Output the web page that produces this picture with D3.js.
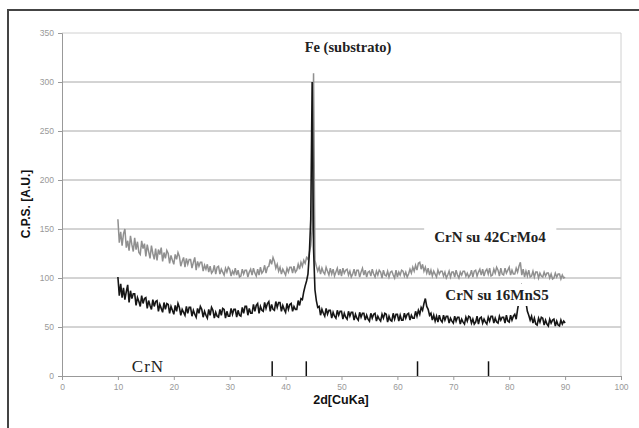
<!DOCTYPE html>
<html>
<head>
<meta charset="utf-8">
<script src="https://cdn.jsdelivr.net/npm/d3@7"></script>
<style>
  body { margin: 0; background: #fff; }
  svg { display: block; }
</style>
</head>
<body>
<svg id="chart" width="639" height="428"></svg>
<script>
// 2theta sampling grid: 10 to 90 deg, 0.25 deg step
const twoTheta = d3.range(321).map(i => 10 + i * 0.25);

// CrN on 42CrMo4 (grey trace), 4 values per degree
const crMo = [
  160, 136, 147, 133,  145, 150, 131, 138,  128, 143, 134, 127,  141, 129, 137, 126,
  124, 138, 130, 135,  122, 134, 127, 120,  133, 125, 119, 130,  118, 129, 124, 131,
  117, 126, 120, 128,  125, 115, 123, 118,  114, 124, 119, 126,  122, 112, 117, 121,
  111, 120, 114, 119,  119, 110, 116, 121,  108, 117, 112, 116,  116, 107, 113, 109,
  114, 106, 112, 105,  107, 113, 104, 111,  112, 104, 109, 106,  103, 110, 106, 111,
  109, 102, 107, 104,  110, 103, 108, 101,  102, 109, 104, 108,  108, 101, 106, 109,
  103, 110, 105, 102,  109, 103, 111, 105,  107, 113, 105, 111,  112, 119, 114, 121,
  117, 110, 114, 107,  111, 104, 109, 106,  103, 110, 106, 111,  111, 105, 112, 106,
  108, 114, 109, 116,  112, 118, 115, 121,  119, 126, 133, 150,  309, 118, 112, 107,
  111, 104, 110, 106,  104, 111, 107, 103,  110, 104, 109, 102,  106, 110, 103, 109,
  102, 110, 105, 108,  109, 103, 107, 101,  104, 109, 102, 108,  108, 101, 106, 110,
  103, 108, 101, 106,  107, 102, 109, 104,  101, 107, 103, 108,  106, 100, 108, 103,
  102, 107, 101, 106,  107, 103, 100, 108,  101, 106, 103, 108,  107, 102, 106, 101,
  104, 109, 105, 111,  107, 113, 108, 115,  116, 109, 114, 107,  111, 105, 110, 103,
  108, 102, 107, 104,  101, 108, 104, 107,  107, 102, 106, 100,  103, 107, 101, 106,
  106, 101, 108, 103,  100, 106, 103, 107,  107, 102, 105, 101,  103, 108, 101, 107,
  108, 102, 106, 109,  103, 109, 102, 107,  109, 104, 110, 102,  103, 109, 105, 111,
  108, 102, 110, 104,  103, 110, 105, 108,  111, 103, 108, 104,  104, 110, 106, 112,
  116, 103, 109, 101,  107, 102, 108, 101,  102, 107, 101, 106,  106, 100, 105, 102,
  101, 106, 102, 105,  105, 100, 104, 99,   100, 105, 101, 104,  104, 99, 103, 100,
  101
];

// CrN on 16MnS5 (black trace)
const mnS = [
  101, 82, 94, 80,  90, 78, 86, 93,  75, 87, 79, 84,  84, 72, 80, 76,
  71, 82, 74, 79,   80, 69, 77, 72,  68, 78, 71, 76,  77, 66, 73, 69,
  65, 75, 68, 74,   73, 64, 71, 67,  63, 72, 66, 74,  70, 62, 68, 65,
  62, 71, 64, 70,   70, 61, 67, 63,  60, 69, 64, 71,  68, 60, 66, 62,
  59, 68, 62, 70,   67, 59, 65, 61,  60, 68, 62, 69,  68, 59, 66, 61,
  61, 69, 63, 68,   68, 60, 67, 62,  61, 70, 64, 71,  71, 62, 69, 64,
  64, 73, 66, 72,   74, 64, 71, 67,  66, 75, 69, 74,  76, 66, 73, 68,
  67, 76, 70, 75,   75, 66, 72, 68,  65, 74, 68, 73,  74, 66, 71, 68,
  68, 77, 72, 79,   78, 86, 92, 97,  104, 125, 160, 300,  130, 88, 77, 70,
  71, 62, 68, 64,   61, 69, 63, 67,  67, 59, 65, 61,  59, 67, 62, 66,
  66, 58, 64, 60,   58, 66, 61, 65,  65, 57, 63, 59,  57, 65, 60, 64,
  64, 57, 62, 58,   56, 64, 59, 63,  64, 56, 61, 58,  56, 63, 59, 64,
  63, 55, 61, 57,   56, 64, 58, 63,  63, 56, 62, 57,  57, 64, 59, 63,
  64, 57, 62, 59,   59, 66, 61, 67,  63, 70, 67, 74,  79, 71, 68, 62,
  64, 57, 62, 56,   61, 55, 62, 57,  55, 62, 57, 61,  61, 54, 59, 56,
  54, 61, 56, 60,   60, 53, 58, 55,  53, 60, 56, 61,  60, 54, 58, 53,
  55, 61, 53, 59,   60, 54, 58, 55,  53, 60, 56, 61,  61, 54, 59, 55,
  54, 61, 57, 60,   60, 54, 62, 56,  55, 62, 57, 61,  63, 58, 68, 76,
  86, 92, 88, 82,   75, 66, 62, 57,  61, 54, 59, 53,  52, 59, 55, 60,
  59, 52, 57, 53,   51, 58, 54, 57,  58, 51, 56, 52,  51, 57, 53, 56,
  54
];

// CrN reference reflections (2theta) and their marker height
const crnLines = [37.6, 43.7, 63.6, 76.3];
const crnHeight = 15;

const xTicks = d3.range(0, 101, 10);
const yTicks = d3.range(0, 351, 50);

const svg = d3.select("#chart");
const x = d3.scaleLinear().domain([0, 100]).range([62, 621]);
const y = d3.scaleLinear().domain([0, 350]).range([376, 33]);

// outer frame (only top and left show in the picture)
svg.append("rect")
  .attr("x", 8).attr("y", 10)
  .attr("width", 700).attr("height", 500)
  .attr("fill", "none").attr("stroke", "#444").attr("stroke-width", 2);

// grid
svg.append("g")
  .selectAll("line")
  .data(yTicks.filter(d => d > 0))
  .join("line")
  .attr("x1", x(0)).attr("x2", x(100))
  .attr("y1", d => y(d)).attr("y2", d => y(d))
  .attr("stroke", d => d === 350 ? "#d0d0d0" : "#a8a8a8")
  .attr("stroke-width", 1);

svg.append("line")
  .attr("x1", x(100)).attr("x2", x(100))
  .attr("y1", y(350)).attr("y2", y(0))
  .attr("stroke", "#d0d0d0");

// axes
const xAxis = svg.append("g")
  .attr("transform", `translate(0,${y(0)})`)
  .call(d3.axisBottom(x).tickValues(xTicks).tickSize(4).tickPadding(4));
const yAxis = svg.append("g")
  .attr("transform", `translate(${x(0)},0)`)
  .call(d3.axisLeft(y).tickValues(yTicks).tickSize(4).tickPadding(4));

[xAxis, yAxis].forEach(a => {
  a.select(".domain").attr("stroke", "#999");
  a.selectAll(".tick line").attr("stroke", "#999");
  a.selectAll(".tick text")
    .attr("fill", "#999")
    .style("font", "8.5px 'Liberation Sans', Arial, sans-serif");
});

// traces
const line = d3.line()
  .x((d, i) => x(twoTheta[i]))
  .y(d => y(d));

svg.append("path")
  .attr("d", line(crMo))
  .attr("fill", "none").attr("stroke", "#909090").attr("stroke-width", 1.5);

svg.append("path")
  .attr("d", line(mnS))
  .attr("fill", "none").attr("stroke", "#161616").attr("stroke-width", 1.6);

// CrN reference markers
svg.append("g")
  .selectAll("line")
  .data(crnLines)
  .join("line")
  .attr("x1", d => x(d)).attr("x2", d => x(d))
  .attr("y1", y(0)).attr("y2", y(crnHeight))
  .attr("stroke", "#111").attr("stroke-width", 1.5);

// labels
const serif = "'Liberation Serif', 'Times New Roman', serif";

function label(txt, cx, cy, size, weight, boxed) {
  const t = svg.append("text")
    .attr("x", cx).attr("y", cy)
    .attr("text-anchor", "middle")
    .attr("dominant-baseline", "central")
    .attr("font-family", serif)
    .attr("font-size", size)
    .attr("font-weight", weight)
    .attr("fill", "#222")
    .text(txt);
  if (boxed) {
    const b = t.node().getBBox();
    svg.insert("rect", () => t.node())
      .attr("x", b.x - boxed[0]).attr("y", b.y - boxed[1])
      .attr("width", b.width + 2 * boxed[0]).attr("height", b.height + 2 * boxed[1])
      .attr("fill", "#fff");
  }
  return t;
}

label("Fe (substrato)", 348, 47, 14.5, "bold");
label("CrN su 42CrMo4", 490, 237, 15, "bold", [10, 4]);
label("CrN su 16MnS5", 497, 295, 15, "bold", [2, 3]);
label("CrN", 148, 366, 17, "normal").attr("letter-spacing", 1);

svg.append("text")
  .attr("x", 341).attr("y", 404)
  .attr("text-anchor", "middle")
  .style("font", "bold 12.5px 'Liberation Sans', Arial, sans-serif")
  .attr("fill", "#111")
  .text("2d[CuKa]");

svg.append("text")
  .attr("transform", `translate(30,204) rotate(-90)`)
  .attr("text-anchor", "middle")
  .style("font", "bold 12px 'Liberation Sans', Arial, sans-serif")
  .attr("fill", "#111")
  .text("C.P.S. [A.U.]");
</script>
</body>
</html>
